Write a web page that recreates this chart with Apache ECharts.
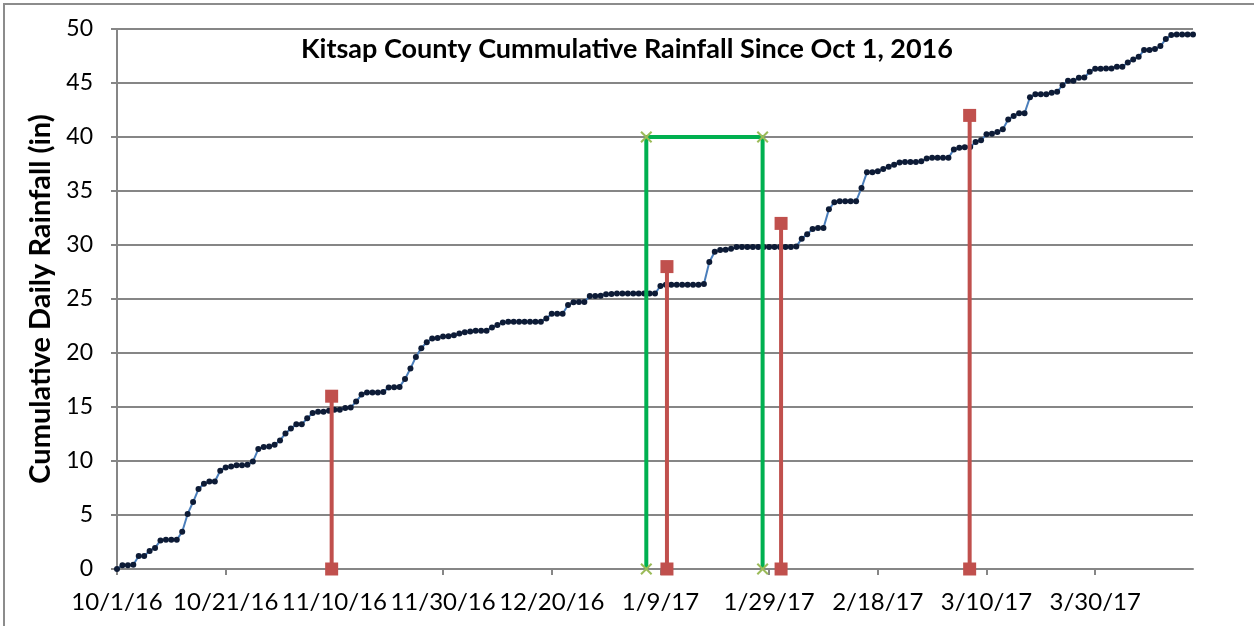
<!DOCTYPE html>
<html>
<head>
<meta charset="utf-8">
<script src="https://cdn.jsdelivr.net/npm/echarts@6/dist/echarts.min.js"></script>
<style>
  html, body { margin: 0; padding: 0; background: #fff; }
  #main { width: 1254px; height: 626px; }
</style>
</head>
<body>
<div id="main"></div>
<script>
// x axis = days since 10/1/16, one tick label every 20 days
var tickLabels = ["10/1/16", "10/21/16", "11/10/16", "11/30/16", "12/20/16",
  "1/9/17", "1/29/17", "2/18/17", "3/10/17", "3/30/17"];

// cumulative rainfall (in), one value per day from 10/1/16
var rainfall = [
  0, 0.34, 0.34, 0.4, 1.2, 1.2, 1.67, 1.95, 2.65, 2.7,
  2.7, 2.7, 3.45, 5.1, 6.2, 7.4, 7.9, 8.1, 8.1, 9.1,
  9.4, 9.5, 9.6, 9.6, 9.65, 9.95, 11.1, 11.3, 11.35, 11.5,
  11.9, 12.55, 13.0, 13.4, 13.4, 13.95, 14.45, 14.55, 14.55, 14.65,
  14.75, 14.75, 14.9, 14.95, 15.5, 16.15, 16.35, 16.35, 16.35, 16.4,
  16.8, 16.83, 16.86, 17.6, 18.56, 19.64, 20.45, 21.0, 21.35, 21.4,
  21.53, 21.56, 21.65, 21.8, 21.93, 22.0, 22.06, 22.06, 22.06, 22.37,
  22.6, 22.83, 22.9, 22.9, 22.9, 22.9, 22.9, 22.9, 22.9, 23.2,
  23.64, 23.64, 23.64, 24.44, 24.7, 24.72, 24.72, 25.28, 25.28, 25.3,
  25.43, 25.46, 25.5, 25.5, 25.5, 25.5, 25.5, 25.5, 25.5, 25.5,
  26.2, 26.33, 26.33, 26.33, 26.33, 26.33, 26.33, 26.33, 26.39, 28.43,
  29.38, 29.54, 29.57, 29.66, 29.81, 29.81, 29.81, 29.81, 29.81, 29.81,
  29.81, 29.81, 29.81, 29.81, 29.81, 29.85, 30.59, 30.99, 31.48, 31.57,
  31.57, 33.3, 33.95, 34.04, 34.04, 34.04, 34.04, 35.28, 36.73, 36.73,
  36.82, 37.04, 37.25, 37.44, 37.65, 37.69, 37.69, 37.69, 37.75, 38.0,
  38.08, 38.08, 38.08, 38.08, 38.85, 39.0, 39.04, 39.07, 39.54, 39.69,
  40.25, 40.31, 40.46, 40.71, 41.61, 41.95, 42.2, 42.2, 43.68, 43.96,
  43.96, 43.96, 44.09, 44.18, 44.8, 45.2, 45.2, 45.48, 45.51, 46.04,
  46.32, 46.32, 46.35, 46.35, 46.5, 46.5, 46.9, 47.18, 47.43, 48.05,
  48.05, 48.14, 48.42, 49.07, 49.44, 49.5, 49.5, 49.5, 49.5
];

// red drop lines (day, height)
var redDays = [39.5, 101.2, 122.2, 156.9];
var redTops = [16, 28, 32, 42];

// green bracket
var greenDays = [97.4, 118.8];
var greenTop = 40;

var font = "Lato, 'Open Sans', sans-serif";
var xMark = "path://M0,1.2L1.2,0L5,3.8L8.8,0L10,1.2L6.2,5L10,8.8L8.8,10L5,6.2L1.2,10L0,8.8L3.8,5Z";

var myChart = echarts.init(document.getElementById("main"));

var series = [
  {
    name: "rain",
    type: "line",
    data: rainfall.map(function (v, i) { return [i, v]; }),
    symbol: "circle",
    symbolSize: 6,
    showAllSymbol: true,
    lineStyle: { color: "#4a7ebb", width: 2 },
    itemStyle: { color: "#0d1b36", borderWidth: 0 },
    z: 2
  }
];

redDays.forEach(function (d, i) {
  series.push({
    name: "red" + i,
    type: "line",
    data: [[d, 0], [d, redTops[i]]],
    symbol: "rect",
    symbolSize: 13,
    lineStyle: { color: "#c0504d", width: 4 },
    itemStyle: { color: "#c0504d" },
    z: 3
  });
});

series.push({
  name: "green",
  type: "line",
  data: [[greenDays[0], 0], [greenDays[0], greenTop], [greenDays[1], greenTop], [greenDays[1], 0]],
  symbol: xMark,
  symbolSize: 12,
  lineStyle: { color: "#00b050", width: 4 },
  itemStyle: { color: "#9bbb59" },
  z: 4
});

var option = {
  animation: false,
  backgroundColor: "#fff",
  title: {
    text: "Kitsap County Cummulative Rainfall Since Oct 1, 2016",
    left: "center",
    top: 31,
    textStyle: { fontFamily: font, fontSize: 27, fontWeight: "bold", color: "#000" }
  },
  graphic: [
    {
      type: "rect",
      shape: { x: 4, y: 4, width: 1300, height: 700 },
      style: { fill: null, stroke: "#8c8c8c", lineWidth: 2 },
      silent: true
    }
  ],
  grid: { left: 117, right: 61, top: 29, bottom: 57 },
  xAxis: {
    type: "value",
    min: 0,
    max: 198,
    interval: 20,
    splitLine: { show: false },
    axisLine: { onZero: false, lineStyle: { color: "#868686", width: 2 } },
    axisTick: { show: true, length: 6, lineStyle: { color: "#868686", width: 2 } },
    axisLabel: {
      showMaxLabel: false,
      margin: 21,
      fontFamily: font,
      fontSize: 24,
      color: "#000",
      formatter: function (v) {
        return v % 20 === 0 ? tickLabels[v / 20] : "";
      }
    }
  },
  yAxis: {
    type: "value",
    min: 0,
    max: 50,
    interval: 5,
    name: "Cumulative Daily Rainfall (in)",
    nameLocation: "middle",
    nameRotate: 90,
    nameGap: 52,
    nameTextStyle: { fontFamily: font, fontSize: 29, fontWeight: "bold", color: "#000" },
    axisLine: { show: true, lineStyle: { color: "#868686", width: 2 } },
    axisTick: { show: true, length: 6, lineStyle: { color: "#868686", width: 2 } },
    splitLine: { show: true, lineStyle: { color: "#868686", width: 2 } },
    axisLabel: { margin: 24, fontFamily: font, fontSize: 23, color: "#000" }
  },
  series: series
};

myChart.setOption(option);
</script>
</body>
</html>
